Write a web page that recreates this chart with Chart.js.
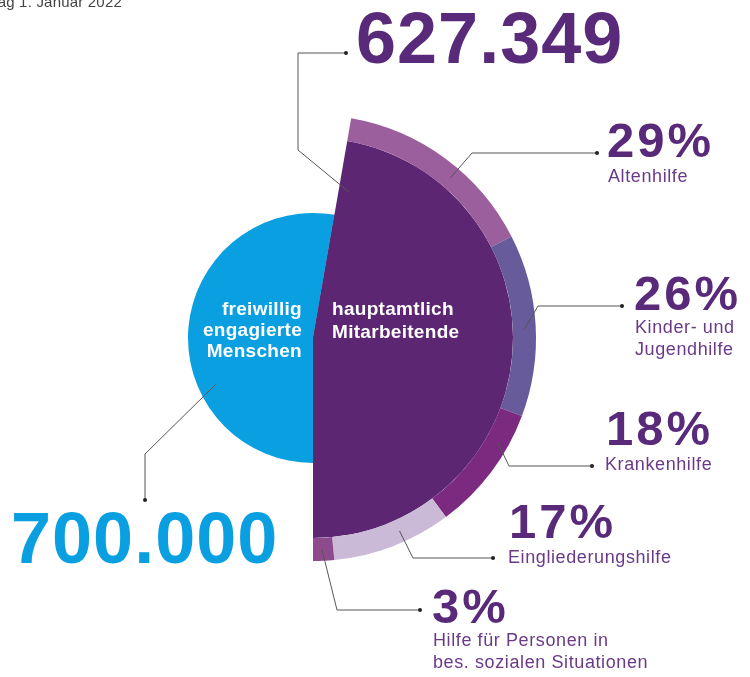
<!DOCTYPE html>
<html lang="de">
<head>
<meta charset="utf-8">
<title>Hauptamtliche und Engagierte</title>
<script src="https://cdn.jsdelivr.net/npm/chart.js@4.4.1/dist/chart.umd.min.js"></script>
<style>
  html, body { margin: 0; padding: 0; background: #fff; }
  #wrap { position: relative; width: 750px; height: 677px; overflow: hidden; }
  #wrap canvas { position: absolute; left: 0; top: 0; }
</style>
</head>
<body>
<div id="wrap">
  <canvas id="base" width="750" height="677"></canvas>
  <canvas id="chart" width="750" height="677"></canvas>
</div>
<script>
// Stichtag
var stand = 'Stichtag 1. Januar 2022';

// hauptamtlich vs. freiwillig
var groups = [['hauptamtlich', 'Mitarbeitende'], ['freiwillig', 'engagierte', 'Menschen']];
var people = [627349, 700000];

// Arbeitsfelder der Hauptamtlichen, Anteil in %
var fields = [
	['Altenhilfe'],
	['Kinder- und', 'Jugendhilfe'],
	['Krankenhilfe'],
	['Eingliederungshilfe'],
	['Hilfe für Personen in', 'bes. sozialen Situationen']
];
var shares = [29, 26, 18, 17, 3];

// Farben
var PURPLE = '#5c2673';
var BLUE = '#0a9fe0';
var CLEAR = 'rgba(0,0,0,0)';
var TEXT_PURPLE = '#5a2a7a';
var LABEL_PURPLE = '#6a3a88';
var ringColors = ['#9b5f9d', '#685b9b', '#7b2a7f', '#cbbad7', '#8d4b8e'];

// Kreis-Anteil der Hauptamtlichen, Keil endet senkrecht unten
var totalPeople = people[0] + people[1];
var wedge = 360 * people[0] / totalPeople;
var rot = 180 - wedge;

// beide Diagramme teilen sich denselben Mittelpunkt
var padding = { left: 90, right: 214, top: 115, bottom: 116 };

// Beschriftung: Position der Texte und Verlauf der Linien
// at = Lage im Segment (0..1), rad = Lage im Ring (0 innen .. 1 aussen)
var fieldText = [
	{ x: 607, y: 157, lx: 608, ly: 182 },
	{ x: 634, y: 310, lx: 635, ly: 333 },
	{ x: 606, y: 445, lx: 605, ly: 470 },
	{ x: 509, y: 538, lx: 508, ly: 563 },
	{ x: 432, y: 623, lx: 433, ly: 646 }
];
var leaders = [
	{ chart: 'top', ds: 0, i: 0, at: 0.58, rad: 0.5, path: [[472, 153], [597, 153]] },
	{ chart: 'top', ds: 0, i: 1, at: 0.52, rad: 0.5, path: [[538, 306], [622, 306]] },
	{ chart: 'top', ds: 0, i: 2, at: 0.27, rad: 0.5, path: [[509, 466], [592, 466]] },
	{ chart: 'top', ds: 0, i: 3, at: 0.40, rad: 0.5, path: [[413, 558], [493, 558]] },
	{ chart: 'top', ds: 0, i: 4, at: 0.56, rad: 0.5, path: [[337, 610], [420, 610]] },
	{ chart: 'top', ds: 1, i: 0, at: 0.025, rad: 0.75, path: [[298, 150], [298, 53], [346, 53]] },
	{ chart: 'base', ds: 0, i: 1, at: 0.34, rad: 0.86, path: [[145, 454], [145, 500]] }
];

function fmt(n) {
	return String(n).replace(/\B(?=(\d{3})+(?!\d))/g, '.');
}

var charts = {};

function arcPoint(c, l) {
	var arc = c.getDatasetMeta(l.ds).data[l.i];
	var p = arc.getProps(['x', 'y', 'startAngle', 'endAngle', 'innerRadius', 'outerRadius'], true);
	var a = p.startAngle + l.at * (p.endAngle - p.startAngle);
	var r = p.innerRadius + l.rad * (p.outerRadius - p.innerRadius);
	return [p.x + r * Math.cos(a), p.y + r * Math.sin(a)];
}

var annotations = {
	id: 'annotations',
	afterDraw: function(chart) {
		var ctx = chart.ctx;
		ctx.save();
		ctx.textBaseline = 'alphabetic';

		// Stand (links angeschnitten)
		ctx.font = '15px "Liberation Sans", Arial, sans-serif';
		ctx.letterSpacing = '0.2px';
		ctx.fillStyle = '#444';
		ctx.textAlign = 'right';
		ctx.fillText(stand, 122, 7);

		// Linien
		ctx.strokeStyle = '#555';
		ctx.lineWidth = 1;
		leaders.forEach(function(l) {
			var start = arcPoint(l.chart === 'top' ? chart : charts.base, l);
			ctx.beginPath();
			ctx.moveTo(start[0], start[1]);
			l.path.forEach(function(pt) { ctx.lineTo(pt[0], pt[1]); });
			ctx.stroke();
			var end = l.path[l.path.length - 1];
			ctx.beginPath();
			ctx.arc(end[0], end[1], 2, 0, Math.PI * 2);
			ctx.fillStyle = '#222';
			ctx.fill();
		});

		// grosse Zahlen
		ctx.textAlign = 'left';
		ctx.letterSpacing = '1px';
		ctx.font = 'bold 72px "Liberation Sans", Arial, sans-serif';
		ctx.fillStyle = TEXT_PURPLE;
		ctx.fillText(fmt(people[0]), 356, 63);
		ctx.fillStyle = BLUE;
		ctx.fillText(fmt(people[1]), 11, 563);

		// Texte in den Flaechen
		ctx.letterSpacing = '0.3px';
		ctx.font = 'bold 19px "Liberation Sans", Arial, sans-serif';
		ctx.fillStyle = '#fff';
		ctx.textAlign = 'left';
		groups[0].forEach(function(t, k) { ctx.fillText(t, 332, 315 + k * 23); });
		ctx.textAlign = 'right';
		groups[1].forEach(function(t, k) { ctx.fillText(t, 302, 315 + k * 21); });

		// Prozente und Arbeitsfelder
		ctx.textAlign = 'left';
		shares.forEach(function(v, k) {
			var t = fieldText[k];
			ctx.letterSpacing = '3px';
			ctx.font = 'bold 49px "Liberation Sans", Arial, sans-serif';
			ctx.fillStyle = TEXT_PURPLE;
			ctx.fillText(v + '%', t.x, t.y);
			ctx.letterSpacing = '0.6px';
			ctx.font = '18px "Liberation Sans", Arial, sans-serif';
			ctx.fillStyle = LABEL_PURPLE;
			fields[k].forEach(function(line, n) { ctx.fillText(line, t.lx, t.ly + n * 22); });
		});
		ctx.restore();
	}
};

var common = {
	responsive: false,
	animation: false,
	events: [],
	layout: { padding: padding },
	plugins: {
		legend: { display: false },
		tooltip: { enabled: false }
	}
};

// Kreis der Engagierten (liegt unten)
charts.base = new Chart(document.getElementById('base'), {
	type: 'pie',
	data: {
		labels: ['hauptamtlich', 'freiwillig'],
		datasets: [{
			data: people,
			backgroundColor: [PURPLE, BLUE],
			borderWidth: 0,
			rotation: rot
		}]
	},
	options: Object.assign({}, common, { radius: 125 })
});

// Keil der Hauptamtlichen mit Ring der Arbeitsfelder
charts.top = new Chart(document.getElementById('chart'), {
	type: 'pie',
	data: {
		labels: fields.map(function(f) { return f.join(' '); }),
		datasets: [
			{
				label: 'Arbeitsfelder',
				data: shares,
				backgroundColor: ringColors,
				borderWidth: 0,
				weight: 23,
				rotation: rot,
				circumference: wedge
			},
			{
				label: 'Personen',
				data: people,
				backgroundColor: [PURPLE, CLEAR],
				borderWidth: 0,
				weight: 200,
				rotation: rot
			}
		]
	},
	options: common,
	plugins: [annotations]
});
</script>
</body>
</html>
